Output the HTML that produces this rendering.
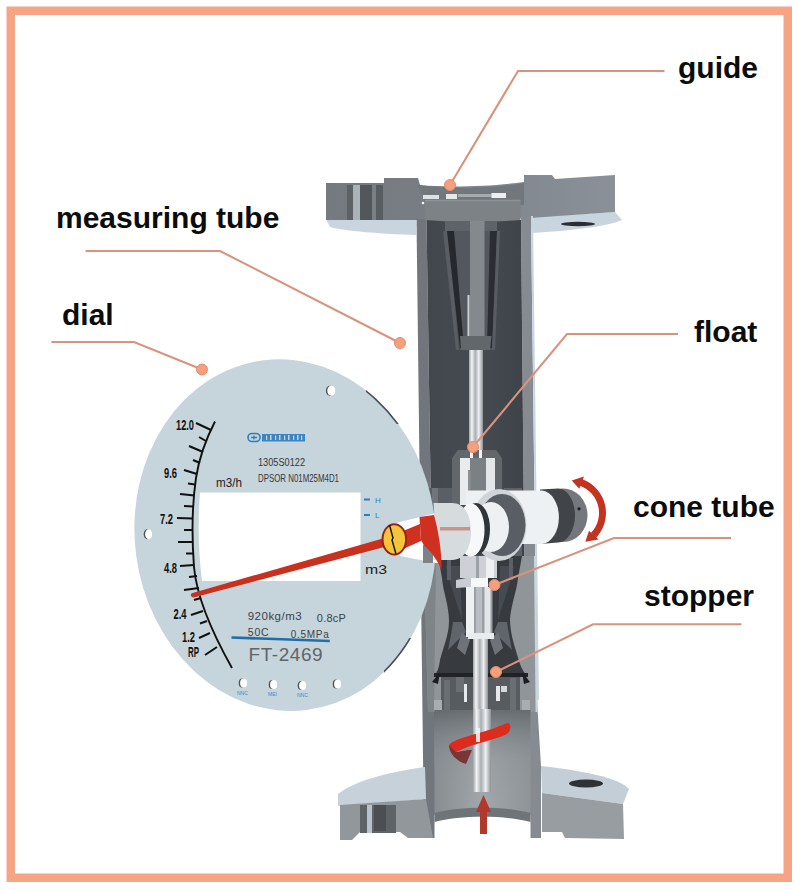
<!DOCTYPE html>
<html><head><meta charset="utf-8">
<style>
html,body{margin:0;padding:0;background:#fff;}
body{width:800px;height:890px;overflow:hidden;position:relative;}
svg{position:absolute;left:0;top:0;}
.lbl{font-family:"Liberation Sans",sans-serif;font-weight:bold;font-size:30px;fill:#0c0c0c;}
.sm{font-family:"Liberation Sans",sans-serif;}
</style></head>
<body>
<svg width="800" height="890" viewBox="0 0 800 890">
<defs>
  <linearGradient id="cav" x1="0" x2="1" y1="0" y2="0">
    <stop offset="0" stop-color="#42474d"/>
    <stop offset="0.5" stop-color="#464b51"/>
    <stop offset="1" stop-color="#3e434a"/>
  </linearGradient>
  <linearGradient id="low" x1="0" x2="1" y1="0" y2="0">
    <stop offset="0" stop-color="#868b90"/>
    <stop offset="0.5" stop-color="#a3a8ad"/>
    <stop offset="1" stop-color="#8e9398"/>
  </linearGradient>
  <linearGradient id="rod" x1="0" x2="1" y1="0" y2="0">
    <stop offset="0" stop-color="#9ea3a8"/>
    <stop offset="0.2" stop-color="#f3f5f6"/>
    <stop offset="0.45" stop-color="#a9aeb3"/>
    <stop offset="0.7" stop-color="#eef1f3"/>
    <stop offset="1" stop-color="#8d9297"/>
  </linearGradient>
  <clipPath id="rimclip"><rect x="366" y="388" width="34" height="36"/><rect x="384" y="638" width="28" height="36"/></clipPath>
  <linearGradient id="lowv" x1="0" x2="0" y1="0" y2="1">
    <stop offset="0" stop-color="#5f6469" stop-opacity="0.85"/>
    <stop offset="0.45" stop-color="#8a8f94" stop-opacity="0.3"/>
    <stop offset="1" stop-color="#a0a5aa" stop-opacity="0"/>
  </linearGradient>
  <linearGradient id="fl" gradientUnits="userSpaceOnUse" x1="326" x2="615" y1="0" y2="0">
    <stop offset="0" stop-color="#747a7f"/>
    <stop offset="0.32" stop-color="#777d82"/>
    <stop offset="0.68" stop-color="#838990"/>
    <stop offset="1" stop-color="#8b9198"/>
  </linearGradient>
</defs>
<rect x="0" y="0" width="800" height="890" fill="#fff"/>
<!-- frame -->
<rect x="10.75" y="10.75" width="777" height="867" fill="none" stroke="#f5a585" stroke-width="8.5"/>

<!-- ============ TUBE ============ -->
<g id="tube">
  <!-- top flange underside light -->
  <path d="M326,219 L416,220 L416,235 C380,234 345,231 330,227 Z" fill="#c9d5de"/>
  <path d="M530,217 L615,212 L622,220 C610,226 570,231 532,233 Z" fill="#c9d5de"/>
  <!-- top flange face -->
  <path d="M326,183 L384,183 L384,178 L418,178 L420,185 C450,188 495,186 524,182 L524,175 L552,175 L555,179 L615,175 L615,212 L530,218 L416,220 L326,220 Z" fill="url(#fl)"/>
  <!-- left flange slot -->
  <rect x="347" y="185" width="36" height="35" fill="#5d6267"/>
  <rect x="353" y="185" width="7" height="35" fill="#a9b3ba"/>
  <rect x="360" y="185" width="12" height="35" fill="#52575c"/>
  <rect x="372" y="185" width="4" height="35" fill="#7a7f84"/>
  <rect x="376" y="185" width="7" height="35" fill="#585d62"/>
  <!-- right slot -->
  <ellipse cx="578" cy="224" rx="17" ry="2.2" fill="#2b2e31"/>

  <!-- tube walls -->
  <path d="M416.5,219 L426.5,219 L436,838 L424,838 Z" fill="#70767c"/>
  <path d="M521,217 L531,217 L537,700 L541,766 L541,838 L527,838 Z" fill="#868b91"/>
  <path d="M531,216 L533,216 L539,700 L537,700 Z" fill="#c8d6e2"/>
  <!-- cavity -->
  <path d="M426.5,220 L521,220 L527,838 L436,838 Z" fill="url(#cav)"/>

  <!-- guide ring -->
  <path d="M418,185 C450,190 495,188 524,183 L524,205 L426,205 Z" fill="#72777c"/>
  <path d="M425,200.5 L520.5,200.5 L520.5,220 C490,222.5 455,222.5 425,220 Z" fill="#7d8287"/>
  <path d="M425,200.5 L520.5,200.5" stroke="#8e9398" stroke-width="1.5"/>
  <rect x="423" y="195" width="16" height="4" fill="#dfe2e4"/>
  <rect x="446" y="194" width="11" height="5" fill="#e6e8ea"/>
  <rect x="458" y="194" width="47" height="3" fill="#a5aaae"/>
  <rect x="491.5" y="193" width="14.5" height="5" fill="#eceef0"/>
  <circle cx="423" cy="203" r="1.3" fill="#f4f4f4"/>
  <!-- upper cone (guide) -->
  <path d="M445,221 L497,221 L491.5,350 L460,350 Z" fill="#53585e"/>
  <path d="M445,221 L497,221 L497,231 L445,231 Z" fill="#5e6369"/>
  <path d="M443,231 L448,231 L459,350 L456,350 Z" fill="#595e64"/>
  <path d="M447,231 L454,231 L464,348 L460,348 Z" fill="#25292d"/>
  <path d="M490,231 L497,231 L492,348 L487,348 Z" fill="#2a2e33"/>
  <path d="M497,231 L500,231 L495,350 L492,350 Z" fill="#585d63"/>
  <rect x="470" y="221" width="14.5" height="129" fill="#84898e"/>
  <path d="M460,336 L491.5,336 L490,350 L461,350 Z" fill="#62676c"/>
  <rect x="467.5" y="295" width="2" height="41" fill="#cdd1d4"/>
  <!-- rod -->
  <rect x="469" y="350" width="14" height="130" fill="url(#rod)"/>
  <!-- float -->
  <path d="M452,458 L458,450 L496,450 L502,458 L502,505 L452,505 Z" fill="#62676c"/>
  <rect x="460" y="458" width="10" height="47" fill="#e9ecee"/>
  <rect x="486" y="458" width="9" height="47" fill="#e4e7e9"/>
  <rect x="470" y="458" width="16" height="47" fill="#7b8085"/>
  <rect x="468" y="470" width="2.5" height="35" fill="#8a8f94"/>
  <rect x="470" y="450" width="3" height="8" fill="#f2f4f5"/>
  <rect x="479" y="450" width="3" height="8" fill="#f2f4f5"/>
  <!-- gray strip behind magnet -->
  <rect x="427" y="488" width="25" height="70" fill="#5a5f65"/>
  <rect x="504" y="488" width="18" height="70" fill="#5d6268"/>
  <rect x="432" y="488" width="6" height="70" fill="#70757b"/>

  <!-- middle section walls lighter -->
  <path d="M424,556 L535.6,556 L537.2,712 L428,712 Z" fill="#90959a"/>
  <path d="M424,556 L436,556 L434,712 L428,712 Z" fill="#7f8489"/>
  <path d="M534,556 L536,556 L537.6,712 L535.6,712 Z" fill="#c9d6e0"/>
  <!-- cone tube internals (hourglass) -->
  <path d="M438,556 L522,556 L518,578 C517,590 511,605 510,619 C510,635 516,650 519,661 C521,668 525,674 528,677 L434,677 C437,672 439,668 440,660 C443,648 449,635 449,621 C449,605 443,592 442,578 Z" fill="#373b40"/>
  <path d="M446,566 L460,566 L462,620 C456,600 450,585 446,566 Z" fill="#464b51"/>
  <path d="M514,566 L500,566 L498,620 C504,600 510,585 514,566 Z" fill="#464b51"/>
  <path d="M453,622 L462,622 L466,632 L448,650 C450,640 452,630 453,622 Z" fill="#60656b"/>
  <path d="M507,622 L498,622 L494,632 L512,650 C510,640 508,630 507,622 Z" fill="#60656b"/>
  <path d="M462,632 L470,640 L465,655 L457,648 Z" fill="#6e7379"/>
  <path d="M498,632 L490,640 L495,655 L503,648 Z" fill="#6e7379"/>
  <rect x="447" y="558" width="4" height="22" fill="#5b6066"/>
  <rect x="509" y="558" width="4" height="22" fill="#5b6066"/>
  <!-- float lower + stopper -->
  <rect x="460" y="556" width="37" height="22" fill="#cdd1d5"/>
  <rect x="486" y="556" width="8" height="22" fill="#eef0f2"/>
  <rect x="476" y="556" width="3" height="22" fill="#9ca1a6"/>
  <path d="M456,580 L471,577 L471,587 L456,588 Z" fill="#c9cdd1"/>
  <rect x="471" y="578" width="17" height="9" fill="#f6f7f8"/>
  <rect x="466" y="587" width="26.5" height="50" fill="#9a9fa4"/>
  <rect x="466" y="587" width="8" height="50" fill="#eef1f2"/>
  <rect x="484.5" y="587" width="6" height="50" fill="#e3e6e9"/>
  <rect x="476" y="587" width="6" height="50" fill="#b9bec2"/>
  <rect x="468" y="633" width="26" height="6" fill="#e9ecee"/>
  <!-- lower chamber features -->
  <rect x="441" y="674" width="79" height="37" fill="#575c61"/>
  <rect x="444" y="680" width="6" height="30" fill="#6a6f74"/>
  <rect x="456" y="676" width="8" height="16" fill="#6a6f74"/>
  <rect x="464" y="684" width="3" height="18" fill="#e6e9eb"/>
  <rect x="496" y="686" width="4" height="15" fill="#e6e9eb"/>
  <rect x="501" y="686" width="6" height="6" fill="#d5d9dc"/>
  <rect x="510" y="678" width="6" height="32" fill="#6a6f74"/>
  <path d="M434,677 L528,677 L528,673 L434,673 Z" fill="#1f2226"/>
  <path d="M432,682 L440,672 L438,684 Z" fill="#1a1d21"/>
  <path d="M530,682 L522,672 L524,684 Z" fill="#1a1d21"/>
  <!-- lower chamber light -->
  <path d="M434.5,710 L530.5,710 L530.5,820 L434.5,820 Z" fill="url(#low)"/>
  <path d="M434.5,710 L530.5,710 L530.5,820 L434.5,820 Z" fill="url(#lowv)"/>
  <path d="M434,700 L442,700 L442,710 L434,710 Z" fill="#a8adb2"/>
  <path d="M530,700 L522,700 L522,710 L530,710 Z" fill="#a8adb2"/>
  <!-- rod through lower -->
  <rect x="473" y="639" width="15" height="70" fill="url(#rod)"/>
  <rect x="473" y="709" width="18" height="83" fill="url(#rod)"/>
  <!-- red spiral -->
  <path d="M449,745 C455,738 475,735 492,729 C500,726 506,723 509,723 C512,727 510,733 505,735 C490,741 472,744 456,752 C452,750 450,748 449,745 Z" fill="#dd2c1c"/>
  <path d="M449,745 C449,753 456,761 466,764 L472,750 C465,750 459,752 456,752 Z" fill="#7a3538"/>
  <rect x="476" y="728" width="4" height="14" fill="#eef1f3" opacity="0.9"/>
  <!-- bottom flanges -->
  <path d="M338,794 C355,780 395,771 425,767 L426,799 L338,806 Z" fill="#c7d1d9"/>
  <path d="M340,805 L426,799 L433,838 L408,838 L400,832 L360,832 L352,840 L340,840 Z" fill="#92979b"/>
  <rect x="360" y="805" width="36" height="28" fill="#5e6368"/>
  <rect x="367" y="805" width="5" height="28" fill="#b7c3cc"/>
  <rect x="374" y="805" width="12" height="26" fill="#4b4f54"/>
  <path d="M541,766 C580,770 620,778 629,789 L623,804 L542,793 Z" fill="#c4ced6"/>
  <path d="M542,793 L623,804 L624,839 L565,838 L562,832 L542,832 Z" fill="#989da2"/>
  <ellipse cx="586" cy="783.5" rx="17" ry="4" fill="#2e3236"/>
  <!-- bottom opening -->
  <path d="M434.5,815 C460,808 505,808 530.5,815 L530.5,840 L434.5,840 Z" fill="#fff"/>
  <path d="M434.5,813 C460,806 505,806 530.5,813 L530.5,822 C505,815 460,815 434.5,822 Z" fill="#6f7479"/>
  <!-- red up arrow -->
  <path d="M483.5,795 L491,812 L487,812 L487,834 L480,834 L480,812 L476,812 Z" fill="#b1382d"/>
</g>



<!-- ============ DIAL ============ -->
<g id="dial">
  <ellipse cx="285.2" cy="535.1" rx="150.4" ry="176.2" transform="rotate(-7 285.2 535.1)" fill="#c6d4db"/>
  <g clip-path="url(#rimclip)"><ellipse cx="285.2" cy="535.1" rx="149.9" ry="175.7" transform="rotate(-7 285.2 535.1)" fill="none" stroke="#4a5058" stroke-width="1.6"/></g>
  <!-- notch area right of hub -->
  <path d="M392,524 L436,513 L440,513 L440,563 L436,563 L400,556 Z" fill="#ffffff"/>
  <rect x="423" y="545" width="10" height="18" fill="#7d8287"/>
  <!-- window -->
  <path d="M200,492.5 L360.5,492.5 L360.5,581 L202,581 C198,550 198,520 200,492.5 Z" fill="#ffffff"/>
  <!-- holes -->
  <ellipse cx="329.9" cy="390.7" rx="4.0" ry="5.0" fill="#4d5358"/><ellipse cx="331.3" cy="390.7" rx="4" ry="5" fill="#fff"/>
  <ellipse cx="147.2" cy="534.3" rx="3.5" ry="5.0" fill="#4d5358"/><ellipse cx="148.6" cy="534.3" rx="3.5" ry="5" fill="#fff"/>
  <ellipse cx="242.2" cy="683.0" rx="3.5" ry="4.5" fill="#4d5358"/><ellipse cx="243.6" cy="683" rx="3.5" ry="4.5" fill="#fff"/>
  <ellipse cx="272.2" cy="684.5" rx="3.5" ry="4.5" fill="#4d5358"/><ellipse cx="273.6" cy="684.5" rx="3.5" ry="4.5" fill="#fff"/>
  <ellipse cx="301.2" cy="685.5" rx="3.5" ry="4.5" fill="#4d5358"/><ellipse cx="302.6" cy="685.5" rx="3.5" ry="4.5" fill="#fff"/>
  <ellipse cx="336.2" cy="684.0" rx="3.5" ry="4.5" fill="#4d5358"/><ellipse cx="337.6" cy="684" rx="3.5" ry="4.5" fill="#fff"/>
  <!-- scale arc -->
  <path d="M215,421.5 C207,437 199,458 196,478 C192,505 192,540 194,567 C196,590 205,620 232,668" fill="none" stroke="#111" stroke-width="1.9"/>
  <g stroke="#111" stroke-width="2">
    <path d="M196,423 L211,430"/>
    <path d="M199,437 L206,441"/>
    <path d="M189,446 L203,452"/>
    <path d="M193,460 L200,463"/>
    <path d="M184,470 L197,474"/>
    <path d="M188,483.6 L195,484.6"/>
    <path d="M180,494 L194.5,495.5"/>
    <path d="M184,506 L193,506.5"/>
    <path d="M177,518 L193,518.5"/>
    <path d="M184,530 L193,530"/>
    <path d="M178,542 L193,542"/>
    <path d="M186,553.5 L193,553.5"/>
    <path d="M180,566 L194,565"/>
    <path d="M189,577 L197,576"/>
    <path d="M184,590 L199,588"/>
    <path d="M194,600 L201,598"/>
    <path d="M191,615 L203,611"/>
    <path d="M200,623.5 L207,621"/>
    <path d="M199,638 L210,633"/>
    <path d="M205,655 L217,647"/>
  </g>
  <g class="sm" font-size="15" fill="#111" font-weight="bold">
    <text x="176" y="429.5" textLength="18" lengthAdjust="spacingAndGlyphs">12.0</text>
    <text x="164" y="478" textLength="13" lengthAdjust="spacingAndGlyphs">9.6</text>
    <text x="160" y="524" textLength="13" lengthAdjust="spacingAndGlyphs">7.2</text>
    <text x="164" y="573" textLength="13" lengthAdjust="spacingAndGlyphs">4.8</text>
    <text x="173.5" y="618.5" textLength="13" lengthAdjust="spacingAndGlyphs">2.4</text>
    <text x="182" y="642" textLength="13" lengthAdjust="spacingAndGlyphs">1.2</text>
    <text x="188" y="657" textLength="11" lengthAdjust="spacingAndGlyphs">RP</text>
  </g>
  <text class="sm" x="216" y="486.5" font-size="13" fill="#222" textLength="26" lengthAdjust="spacingAndGlyphs">m3/h</text>
  <text class="sm" x="365" y="574" font-size="13" fill="#222" textLength="22" lengthAdjust="spacingAndGlyphs">m3</text>
  <rect x="248" y="433.5" width="12" height="8" rx="4" fill="none" stroke="#2a7fc0" stroke-width="1.6"/><path d="M251,437.5 L257,437.5 M254,435.5 L254,439.5" stroke="#2a7fc0" stroke-width="1.3"/>
  <rect x="262" y="434" width="43" height="7.5" fill="#3b86c2"/>
  <g fill="#c6d4db"><rect x="266" y="435.5" width="1.2" height="4.5"/><rect x="270" y="435" width="1.5" height="5"/><rect x="275" y="435.5" width="1.2" height="4.5"/><rect x="279" y="435" width="1.5" height="5"/><rect x="284" y="435.5" width="1.2" height="4.5"/><rect x="288" y="435" width="1.5" height="5"/><rect x="293" y="435.5" width="1.2" height="4.5"/><rect x="297" y="435" width="1.5" height="5"/><rect x="301" y="435.5" width="1.2" height="4.5"/></g>
  <text class="sm" x="258" y="465.6" font-size="10.5" fill="#33383d" textLength="47" lengthAdjust="spacingAndGlyphs">1305S0122</text>
  <text class="sm" x="258" y="482" font-size="10.5" fill="#33383d" textLength="81" lengthAdjust="spacingAndGlyphs">DPSOR N01M25M4D1</text>
  <rect x="364" y="498.5" width="6" height="2" fill="#2a7fc0"/>
  <rect x="364" y="514" width="6" height="2" fill="#2a7fc0"/>
  <text class="sm" x="375" y="503" font-size="8" fill="#2a7fc0">H</text>
  <text class="sm" x="375" y="518" font-size="8" fill="#2a7fc0">L</text>
  <text class="sm" x="247.7" y="620" font-size="11.5" fill="#3d4247" textLength="54" lengthAdjust="spacing">920kg/m3</text>
  <text class="sm" x="316.8" y="622" font-size="11" fill="#3d4247" textLength="29" lengthAdjust="spacing">0.8cP</text>
  <text class="sm" x="247.7" y="636" font-size="10.5" fill="#3d4247" textLength="21" lengthAdjust="spacing">50C</text>
  <text class="sm" x="290.8" y="638" font-size="10" fill="#3d4247" textLength="38" lengthAdjust="spacing">0.5MPa</text>
  <path d="M231.5,637.5 L329.8,641" stroke="#1f6fa8" stroke-width="2.6"/>
  <text class="sm" x="248.6" y="661" font-size="19" fill="#5f656b" textLength="74" lengthAdjust="spacing">FT-2469</text>
  <g class="sm" font-size="5" fill="#3a8ad0">
    <text x="237" y="695">NNC</text><text x="268" y="696">MEI</text><text x="297" y="697">NNC</text>
  </g>
</g>

<!-- ============ MAGNET ============ -->
<g id="magnet">
  <!-- right end caps -->
  <ellipse cx="563" cy="515.3" rx="24.5" ry="26.8" fill="#74777b"/>
  <path d="M540,489.5 L558,488.5 A17,27 0 0 1 558,542.5 L540,544 Z" fill="#414549"/>
  <circle cx="579" cy="508.8" r="1.6" fill="#1a1a1a"/>
  <!-- white cylinder -->
  <path d="M466,490.5 L542,490.5 A18,26.8 0 0 1 542,544 L466,544 Z" fill="#edf1f4"/>
  <!-- big disc -->
  <ellipse cx="499" cy="525" rx="27.5" ry="36" fill="#cfd4d8"/>
  <ellipse cx="502" cy="525" rx="23.5" ry="31" fill="#585e64"/>
  <ellipse cx="491" cy="527" rx="18" ry="25" fill="#eef1f4"/>
  <ellipse cx="476" cy="529" rx="14" ry="26" fill="#30353a"/>
  <ellipse cx="471" cy="530" rx="13.5" ry="26.5" fill="#f7f8f9"/>
  <path d="M433.5,503 L452,503 C466,503 471,518 471,531.5 C471,545 466,560 452,560 L433.5,560 C435,540 435,520 433.5,503 Z" fill="#d6dbde"/>
  <rect x="440" y="527" width="30" height="3.5" fill="#c9938b"/>
  <!-- rotation arrow -->
  <path d="M582.3,479.2 A36,36 0 0 1 595.9,538.0 L590.9,533.1 A29,29 0 0 0 579.9,485.7 Z" fill="#c4331f"/>
  <path d="M579.3,488.7 L584.0,476.6 L571.7,480.5 Z" fill="#c4331f"/>
  <path d="M589.0,530.7 L598.5,539.6 L585.3,541.7 Z" fill="#c4331f"/>
</g>
<g id="pointer">
  <path d="M192.5,593 L388,537 L390,545.5 L193.5,597.4 C190.5,597.6 189.8,593.8 192.5,593 Z" fill="#c9301d"/>
  <path d="M403,531 L420,524 L421,541 L403,549 Z" fill="#d0301f"/>
  <path d="M419.5,517 L434,515 C438,530 442,550 441.5,570 C437,560 432,552 424,545.5 L421,540 Z" fill="#d0301f"/>
  <ellipse cx="394.3" cy="539.4" rx="12.8" ry="16.2" fill="#9b1f16"/>
  <ellipse cx="394.3" cy="539.4" rx="10.8" ry="14.2" fill="#f5c43b"/>
  <path d="M389.5,525 L393,538 L392,540 L396,554" fill="none" stroke="#1a1a1a" stroke-width="1.5"/>
</g>

<!-- ============ LEADERS ============ -->
<g fill="none" stroke="#d9937d" stroke-width="2.1">
  <path d="M664.5,71 L518,71 L450,185"/>
  <path d="M85.5,251 L220,251 L400,343"/>
  <path d="M51.4,342 L134,342 L202,369.5"/>
  <path d="M678,334 L567,334 L473,447"/>
  <path d="M731,538 L614,538 L494.5,585"/>
  <path d="M741.5,624.3 L593,624.3 L496,672"/>
</g>
<g fill="#f4a07c" stroke="#e68b6f" stroke-width="1">
  <circle cx="450" cy="185" r="5.5"/>
  <circle cx="400" cy="343" r="5.5"/>
  <circle cx="202" cy="369.5" r="5.5"/>
  <circle cx="473" cy="447" r="5.5"/>
  <circle cx="494.5" cy="585" r="5.5"/>
  <circle cx="496" cy="672" r="5.5"/>
</g>

<!-- labels -->
<text class="lbl" x="678" y="78">guide</text>
<text class="lbl" x="56" y="228">measuring tube</text>
<text class="lbl" x="62" y="325">dial</text>
<text class="lbl" x="694" y="342">float</text>
<text class="lbl" x="633" y="517">cone tube</text>
<text class="lbl" x="644" y="606">stopper</text>
</svg>
</body></html>
